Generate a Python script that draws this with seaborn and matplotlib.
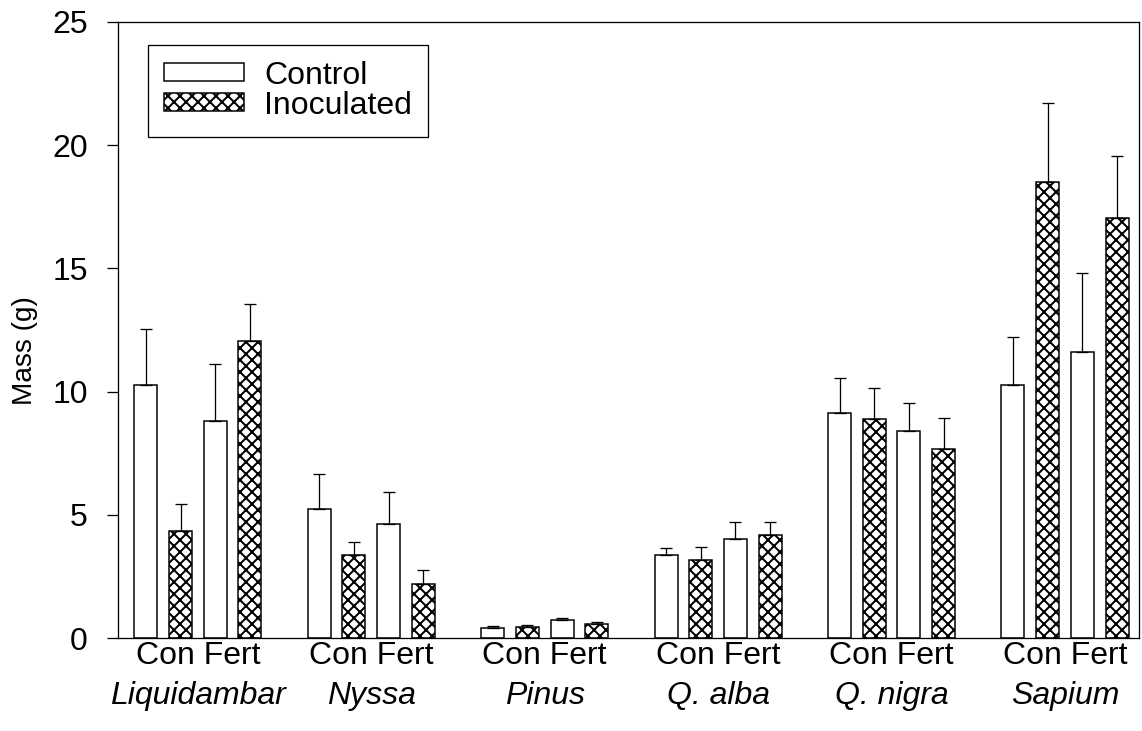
import numpy as np
import pandas as pd
import matplotlib.pyplot as plt
import seaborn as sns
from matplotlib.patches import Patch

# values (mean mass in g, upper error bar length)
species = ["Liquidambar", "Nyssa", "Pinus", "Q. alba", "Q. nigra", "Sapium"]
treatments = ["Con Control", "Con Inoculated", "Fert Control", "Fert Inoculated"]

con_control = [10.28, 5.23, 0.42, 3.35, 9.12, 10.28]
con_control_err = [2.27, 1.42, 0.07, 0.32, 1.42, 1.94]
con_inoculated = [4.34, 3.35, 0.46, 3.16, 8.87, 18.52]
con_inoculated_err = [1.08, 0.54, 0.06, 0.53, 1.28, 3.18]
fert_control = [8.80, 4.63, 0.75, 4.02, 8.39, 11.60]
fert_control_err = [2.32, 1.28, 0.06, 0.67, 1.16, 3.22]
fert_inoculated = [12.07, 2.20, 0.58, 4.19, 7.66, 17.06]
fert_inoculated_err = [1.47, 0.54, 0.07, 0.50, 1.25, 2.49]

means = [con_control, con_inoculated, fert_control, fert_inoculated]
errs = [con_control_err, con_inoculated_err, fert_control_err, fert_inoculated_err]

rows = []
for t, vals, ee in zip(treatments, means, errs):
    for s, v, e in zip(species, vals, ee):
        rows.append({"species": s, "treatment": t, "mass": v, "err": e})
df = pd.DataFrame(rows)

sns.set_theme(style="white")
plt.rcParams["font.family"] = ["Liberation Sans", "DejaVu Sans"]
plt.rcParams["hatch.linewidth"] = 2.0
plt.rcParams["hatch.color"] = "black"
plt.rcParams["text.color"] = "black"

fig = plt.figure(figsize=(1142 / 72, 731 / 72), dpi=72)
ax = fig.add_axes([0.1033, 0.1272, 0.8941, 0.8428])

sns.barplot(data=df, x="species", y="mass", hue="treatment",
            order=species, hue_order=treatments,
            palette={t: "white" for t in treatments}, saturation=1,
            edgecolor="black", linewidth=1.5, width=0.8, gap=0.337,
            errorbar=None, legend=False, ax=ax)

# hatching and one-sided error bars
for cont, t in zip(ax.containers, treatments):
    sub = df[df["treatment"] == t].set_index("species").loc[species]
    xs = [p.get_x() + p.get_width() / 2 for p in cont]
    if "Inoculated" in t:
        for p in cont:
            p.set_hatch("xx")
    ax.errorbar(xs, sub["mass"], yerr=[np.zeros(len(xs)), sub["err"]],
                fmt="none", ecolor="black", elinewidth=1.3,
                capsize=6, capthick=1.3, zorder=1)

ax.set_xlim(-0.461, 5.427)
ax.set_ylim(0, 25)
ax.set_yticks(range(0, 26, 5))
ax.set_xticks(range(len(species)))
ax.set_xticklabels(["Con Fert"] * len(species))
ax.tick_params(axis="x", length=0, pad=3, labelsize=32, colors="black")
ax.tick_params(axis="y", left=True, length=11, width=1.3, direction="out",
               pad=19, labelsize=32, colors="black")
for sp in ax.spines.values():
    sp.set_visible(True)
    sp.set_color("black")
    sp.set_linewidth(1.3)

for i, s in enumerate(species):
    ax.text(i, -0.070, s, transform=ax.get_xaxis_transform(), ha="center",
            va="top", fontsize=32, style="italic", color="black")

ax.set_xlabel("")
ax.set_ylabel("Mass (g)", fontsize=28, color="black")
ax.yaxis.set_label_coords(-0.078, 0.466)

handles = [Patch(facecolor="white", edgecolor="black", linewidth=1.5),
           Patch(facecolor="white", edgecolor="black", linewidth=1.5, hatch="xx")]
leg = ax.legend(handles, ["Control", "Inoculated"], loc="upper left",
                bbox_to_anchor=(0.029, 0.963), borderaxespad=0, fontsize=32,
                handlelength=2.5, handleheight=0.5, handletextpad=0.65,
                labelspacing=0.0, borderpad=0.5, fancybox=False,
                edgecolor="black", framealpha=1, labelcolor="black")
leg.get_frame().set_linewidth(1.3)

fig.savefig("out.png", dpi=72)
